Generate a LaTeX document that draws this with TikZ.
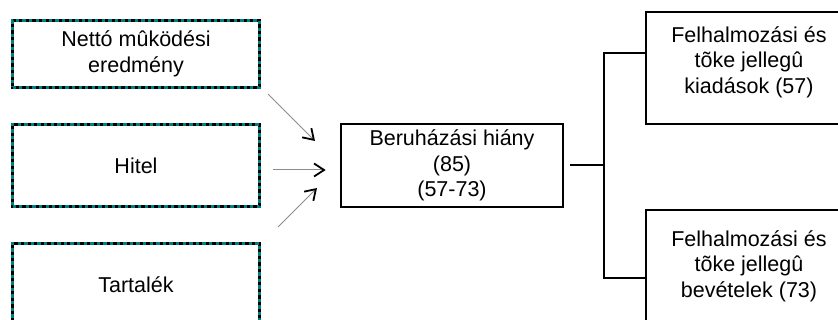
\documentclass[tikz,border=0pt]{standalone}
\usepackage{fontspec}
\setmainfont{Liberation Sans}
\usetikzlibrary{arrows.meta}
\definecolor{boxteal}{RGB}{0,128,128}
\definecolor{arrowgray}{RGB}{140,140,140}
\begin{document}
\begin{tikzpicture}[x=1pt,y=-1pt,
  every node/.style={font=\fontsize{21.5}{25.5}\selectfont, align=center, inner sep=0pt},
  srcbox/.style={draw=black, line width=3.5pt, minimum width=247pt,
    postaction={draw=boxteal, dash pattern=on 3.3pt off 3.3pt}},
  plainbox/.style={draw=black, line width=2pt},
  conn/.style={draw=black, line width=2pt},
  feed/.style={draw=arrowgray, line width=1pt,
    -{Straight Barb[length=10pt,width=13pt,line width=1.8pt,color=black]}}]
\useasboundingbox (0,0) rectangle (838,320);
\clip (0,0) rectangle (838,320);

% sources on the left
\node[srcbox, minimum height=67pt] (b1) at (136,54) {Nettó mûködési\\eredmény};
\node[srcbox, minimum height=82pt] (b2) at (136,165.5) {Hitel};
\node[srcbox, minimum height=82pt] (b3) at (136,284.5) {Tartalék};

% central box
\node[plainbox, minimum width=222pt, minimum height=83pt] (cb) at (452,165.5)
  {Beruházási hiány\\(85)\\(57-73)};

% boxes on the right
\node[plainbox, minimum width=206pt, minimum height=112pt] (rb1) at (749,68) {};
\node (rt1) at (749,62) {Felhalmozási és\\tõke jellegû\\kiadások (57)};
\node[plainbox, minimum width=206pt, minimum height=112pt] (rb2) at (749,266) {};
\node (rt2) at (749,266) {Felhalmozási és\\tõke jellegû\\bevételek (73)};

% feeding arrows
\draw[feed] ([shift={(6.75,4.75)}]b1.south east) -- ([shift={(-25,-24.5)}]cb.west);
\draw[feed] ([shift={(11.75,4.5)}]b2.east) -- ([shift={(-14.3,4.5)}]cb.west);
\draw[feed] ([shift={(16.75,-14.75)}]b3.north east) -- ([shift={(-23,22.5)}]cb.west);

% split into the two right boxes
\coordinate (fork) at (604,165.5);
\draw[conn] ([xshift=6pt]cb.east) -- (fork);
\draw[conn] ([yshift=15pt]rb1.west) -| (fork) |- ([yshift=-12pt]rb2.west);
\end{tikzpicture}
\end{document}
